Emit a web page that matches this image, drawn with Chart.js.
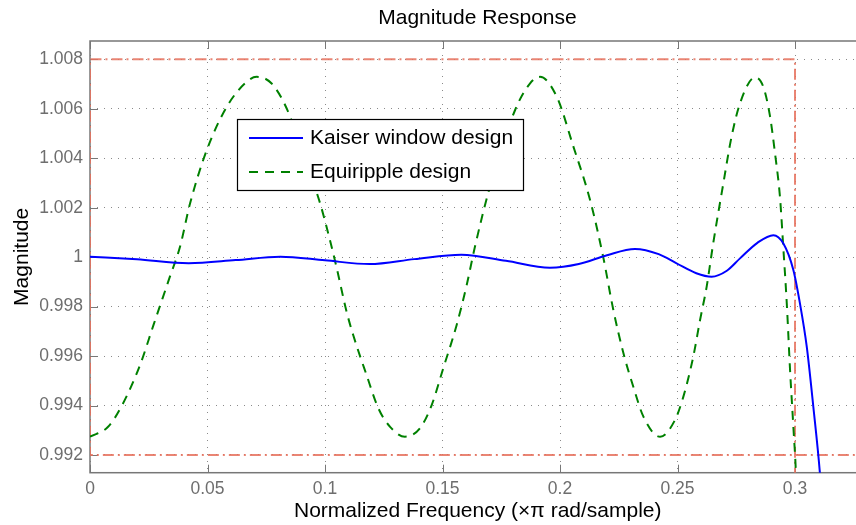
<!DOCTYPE html>
<html>
<head>
<meta charset="utf-8">
<script src="https://cdn.jsdelivr.net/npm/chart.js@4.4.1/dist/chart.umd.min.js"></script>
<style>
  html, body { margin: 0; padding: 0; background: #fff; overflow: hidden; }
  #wrap { width: 955px; height: 525px; }
</style>
</head>
<body>
<div id="wrap"><canvas id="chart" width="955" height="525"></canvas></div>
<script>
// values
const kaiserFreq = [0, 0.02, 0.042, 0.062, 0.081, 0.1, 0.119, 0.138, 0.158, 0.177, 0.1957, 0.208, 0.22,
                    0.2319, 0.242, 0.2496, 0.258, 0.2645, 0.271, 0.2766, 0.284, 0.2908, 0.295, 0.2993,
                    0.3021, 0.305, 0.3078, 0.3106, 0.313];
const kaiserMag  = [1.00002, 0.99991, 0.99975, 0.99988, 1.00002, 0.99987, 0.99972, 0.99992, 1.0001, 0.99985, 0.99957, 0.99972, 1.00008,
                    1.00033, 1.00012, 0.99975, 0.99935, 0.99921, 0.99945, 0.99995, 1.00058, 1.00089, 1.00056, 0.99948,
                    0.99813, 0.99638, 0.99395, 0.99127, 0.988];

const equiFreq = [0, 0.0077, 0.0137, 0.0213, 0.027, 0.034, 0.0383, 0.0426, 0.0497, 0.0582, 0.0667, 0.0709, 0.0773, 0.0837,
                  0.0908, 0.0979, 0.1021, 0.105, 0.1092, 0.112, 0.1177, 0.1227, 0.1277, 0.134, 0.1404, 0.1454, 0.1503, 0.156,
                  0.1603, 0.1638, 0.1702, 0.1809, 0.1872, 0.1915, 0.1986, 0.2057, 0.2128, 0.2184, 0.2227, 0.227, 0.2312, 0.2355,
                  0.2426, 0.2489, 0.2525, 0.2567, 0.2596, 0.2624, 0.2652, 0.2695, 0.273, 0.2766, 0.283, 0.2865, 0.2894, 0.2915,
                  0.2936, 0.295, 0.2965, 0.2979, 0.2993, 0.3004, 0.3015];
const equiMag  = [0.99274, 0.99314, 0.99402, 0.99564, 0.99725, 0.99921, 1.00042, 1.00218, 1.00433, 1.00608, 1.00709, 1.00729, 1.00702, 1.00601,
                  1.00415, 1.00218, 1.00069, 0.99955, 0.99779, 0.99685, 0.99523, 0.99389, 0.99314, 0.99274, 0.99308, 0.99402, 0.9955, 0.99725,
                  0.99887, 1.00042, 1.00285, 1.00595, 1.00702, 1.00729, 1.00649, 1.00447, 1.00231, 1.0, 0.99786, 0.99611, 0.99476, 0.99355,
                  0.99274, 0.99341, 0.99436, 0.99597, 0.99746, 0.9988, 1.00056, 1.00298, 1.00487, 1.00622, 1.00727, 1.00689, 1.00568, 1.00419,
                  1.00244, 1.00042, 0.99813, 0.99543, 0.99314, 0.99126, 0.988];

// specification mask (dash-dot red)
const maskFreq = [0.3, 0.3, 0, 0, 0.4];
const maskMag  = [0.98, 1.008, 1.008, 0.992, 0.992];

const xTickVals   = [0, 0.05, 0.1, 0.15, 0.2, 0.25, 0.3];
const xTickLabels = ["0", "0.05", "0.1", "0.15", "0.2", "0.25", "0.3"];
const yTickVals   = [0.992, 0.994, 0.996, 0.998, 1, 1.002, 1.004, 1.006, 1.008];
const yTickLabels = ["0.992", "0.994", "0.996", "0.998", "1", "1.002", "1.004", "1.006", "1.008"];

const FONT = "'Liberation Sans', Arial, sans-serif";
const pts = (xs, ys) => xs.map((x, i) => ({ x: x, y: ys[i] }));

const boxPlugin = {
  id: "box",
  beforeDatasetsDraw(chart) {
    const { ctx, chartArea: a, scales: { x, y } } = chart;
    ctx.save();
    ctx.strokeStyle = "#777";
    ctx.lineWidth = 1.5;
    ctx.strokeRect(a.left, a.top, a.right - a.left, a.bottom - a.top);
    ctx.beginPath();
    x.ticks.forEach(t => {
      const px = Math.round(x.getPixelForValue(t.value)) + 0.5;
      ctx.moveTo(px, a.bottom); ctx.lineTo(px, a.bottom - 8);
      ctx.moveTo(px, a.top); ctx.lineTo(px, a.top + 8);
    });
    y.ticks.forEach(t => {
      const py = Math.round(y.getPixelForValue(t.value)) + 0.5;
      ctx.moveTo(a.left, py); ctx.lineTo(a.left + 8, py);
      ctx.moveTo(a.right, py); ctx.lineTo(a.right - 8, py);
    });
    ctx.lineWidth = 1;
    ctx.stroke();
    ctx.restore();
  },
  afterDraw(chart) {
    // legend box in the upper left of the axes
    const ctx = chart.ctx;
    const bx = 237, by = 119, bw = 286, bh = 71;
    ctx.save();
    ctx.fillStyle = "#fff";
    ctx.fillRect(bx, by, bw, bh);
    ctx.strokeStyle = "#000";
    ctx.lineWidth = 1.2;
    ctx.strokeRect(bx + 0.5, by + 0.5, bw, bh);
    chart.data.datasets.slice(0, 2).forEach((ds, i) => {
      const ly = by + 19 + i * 34;
      ctx.beginPath();
      ctx.setLineDash(ds.borderDash || []);
      ctx.strokeStyle = ds.borderColor;
      ctx.lineWidth = ds.borderWidth;
      ctx.moveTo(249, ly); ctx.lineTo(303, ly);
      ctx.stroke();
      ctx.setLineDash([]);
      ctx.fillStyle = "#000";
      ctx.font = "21px " + FONT;
      ctx.textBaseline = "middle";
      ctx.textAlign = "left";
      ctx.fillText(ds.label, 310, ly);
    });
    ctx.restore();
  }
};

const config = {
  type: "line",
  data: {
    datasets: [
      { label: "Kaiser window design",
        data: pts(kaiserFreq, kaiserMag),
        borderColor: "#0000ff", borderWidth: 2, pointRadius: 0,
        cubicInterpolationMode: "monotone" },
      { label: "Equiripple design",
        data: pts(equiFreq, equiMag),
        borderColor: "#008000", borderWidth: 2, borderDash: [9, 7], pointRadius: 0,
        cubicInterpolationMode: "monotone" },
      { label: "mask",
        data: pts(maskFreq, maskMag),
        borderColor: "rgba(230,112,92,0.85)", borderWidth: 2, borderDash: [11, 4, 2, 4],
        pointRadius: 0, tension: 0 }
    ]
  },
  options: {
    responsive: false,
    animation: false,
    devicePixelRatio: 1,
    layout: { padding: 0 },
    plugins: {
      legend: { display: false },
      tooltip: { enabled: false },
      title: {
        display: true, text: "Magnitude Response", color: "#000",
        font: { family: FONT, size: 21, weight: "normal" },
        padding: { top: 6, bottom: 9.8 }
      }
    },
    scales: {
      x: {
        type: "linear", min: 0, max: 0.33,
        afterFit: s => { s.height = 52.3; },
        afterBuildTicks: s => { s.ticks = xTickVals.map(v => ({ value: v })); },
        ticks: { callback: (v, i) => xTickLabels[i], color: "#6e6e6e",
                 font: { family: FONT, size: 17.5 }, padding: 6, maxRotation: 0, autoSkip: false },
        grid: { color: "#8a8a8a", lineWidth: 1, drawTicks: false, borderDash: [1, 6] },
        border: { display: false, dash: [1, 6] },
        title: { display: true, text: "Normalized Frequency (\u00d7\u03c0 rad/sample)", color: "#000",
                 font: { family: FONT, size: 21 }, padding: { top: 0, bottom: 1.5 } }
      },
      y: {
        type: "linear", min: 0.991284, max: 1.00874,
        afterFit: s => { s.width = 90; },
        afterBuildTicks: s => { s.ticks = yTickVals.map(v => ({ value: v })); },
        ticks: { callback: (v, i) => yTickLabels[i], color: "#6e6e6e",
                 font: { family: FONT, size: 17.5 }, padding: 7, autoSkip: false },
        grid: { color: "#8a8a8a", lineWidth: 1, drawTicks: false, borderDash: [1, 6] },
        border: { display: false, dash: [1, 6] },
        title: { display: true, text: "Magnitude", color: "#000",
                 font: { family: FONT, size: 21 }, padding: { top: 9.5, bottom: 0 } }
      },
      // empty right-hand axis: keeps the title centred over the plot area
      yRight: {
        type: "linear", position: "right", min: 0.991284, max: 1.00874,
        afterFit: s => { s.width = 89.5; },
        ticks: { display: false },
        grid: { display: false },
        border: { display: false }
      }
    }
  },
  plugins: [boxPlugin]
};

const chart = new Chart(document.getElementById("chart"), config);
</script>
</body>
</html>
